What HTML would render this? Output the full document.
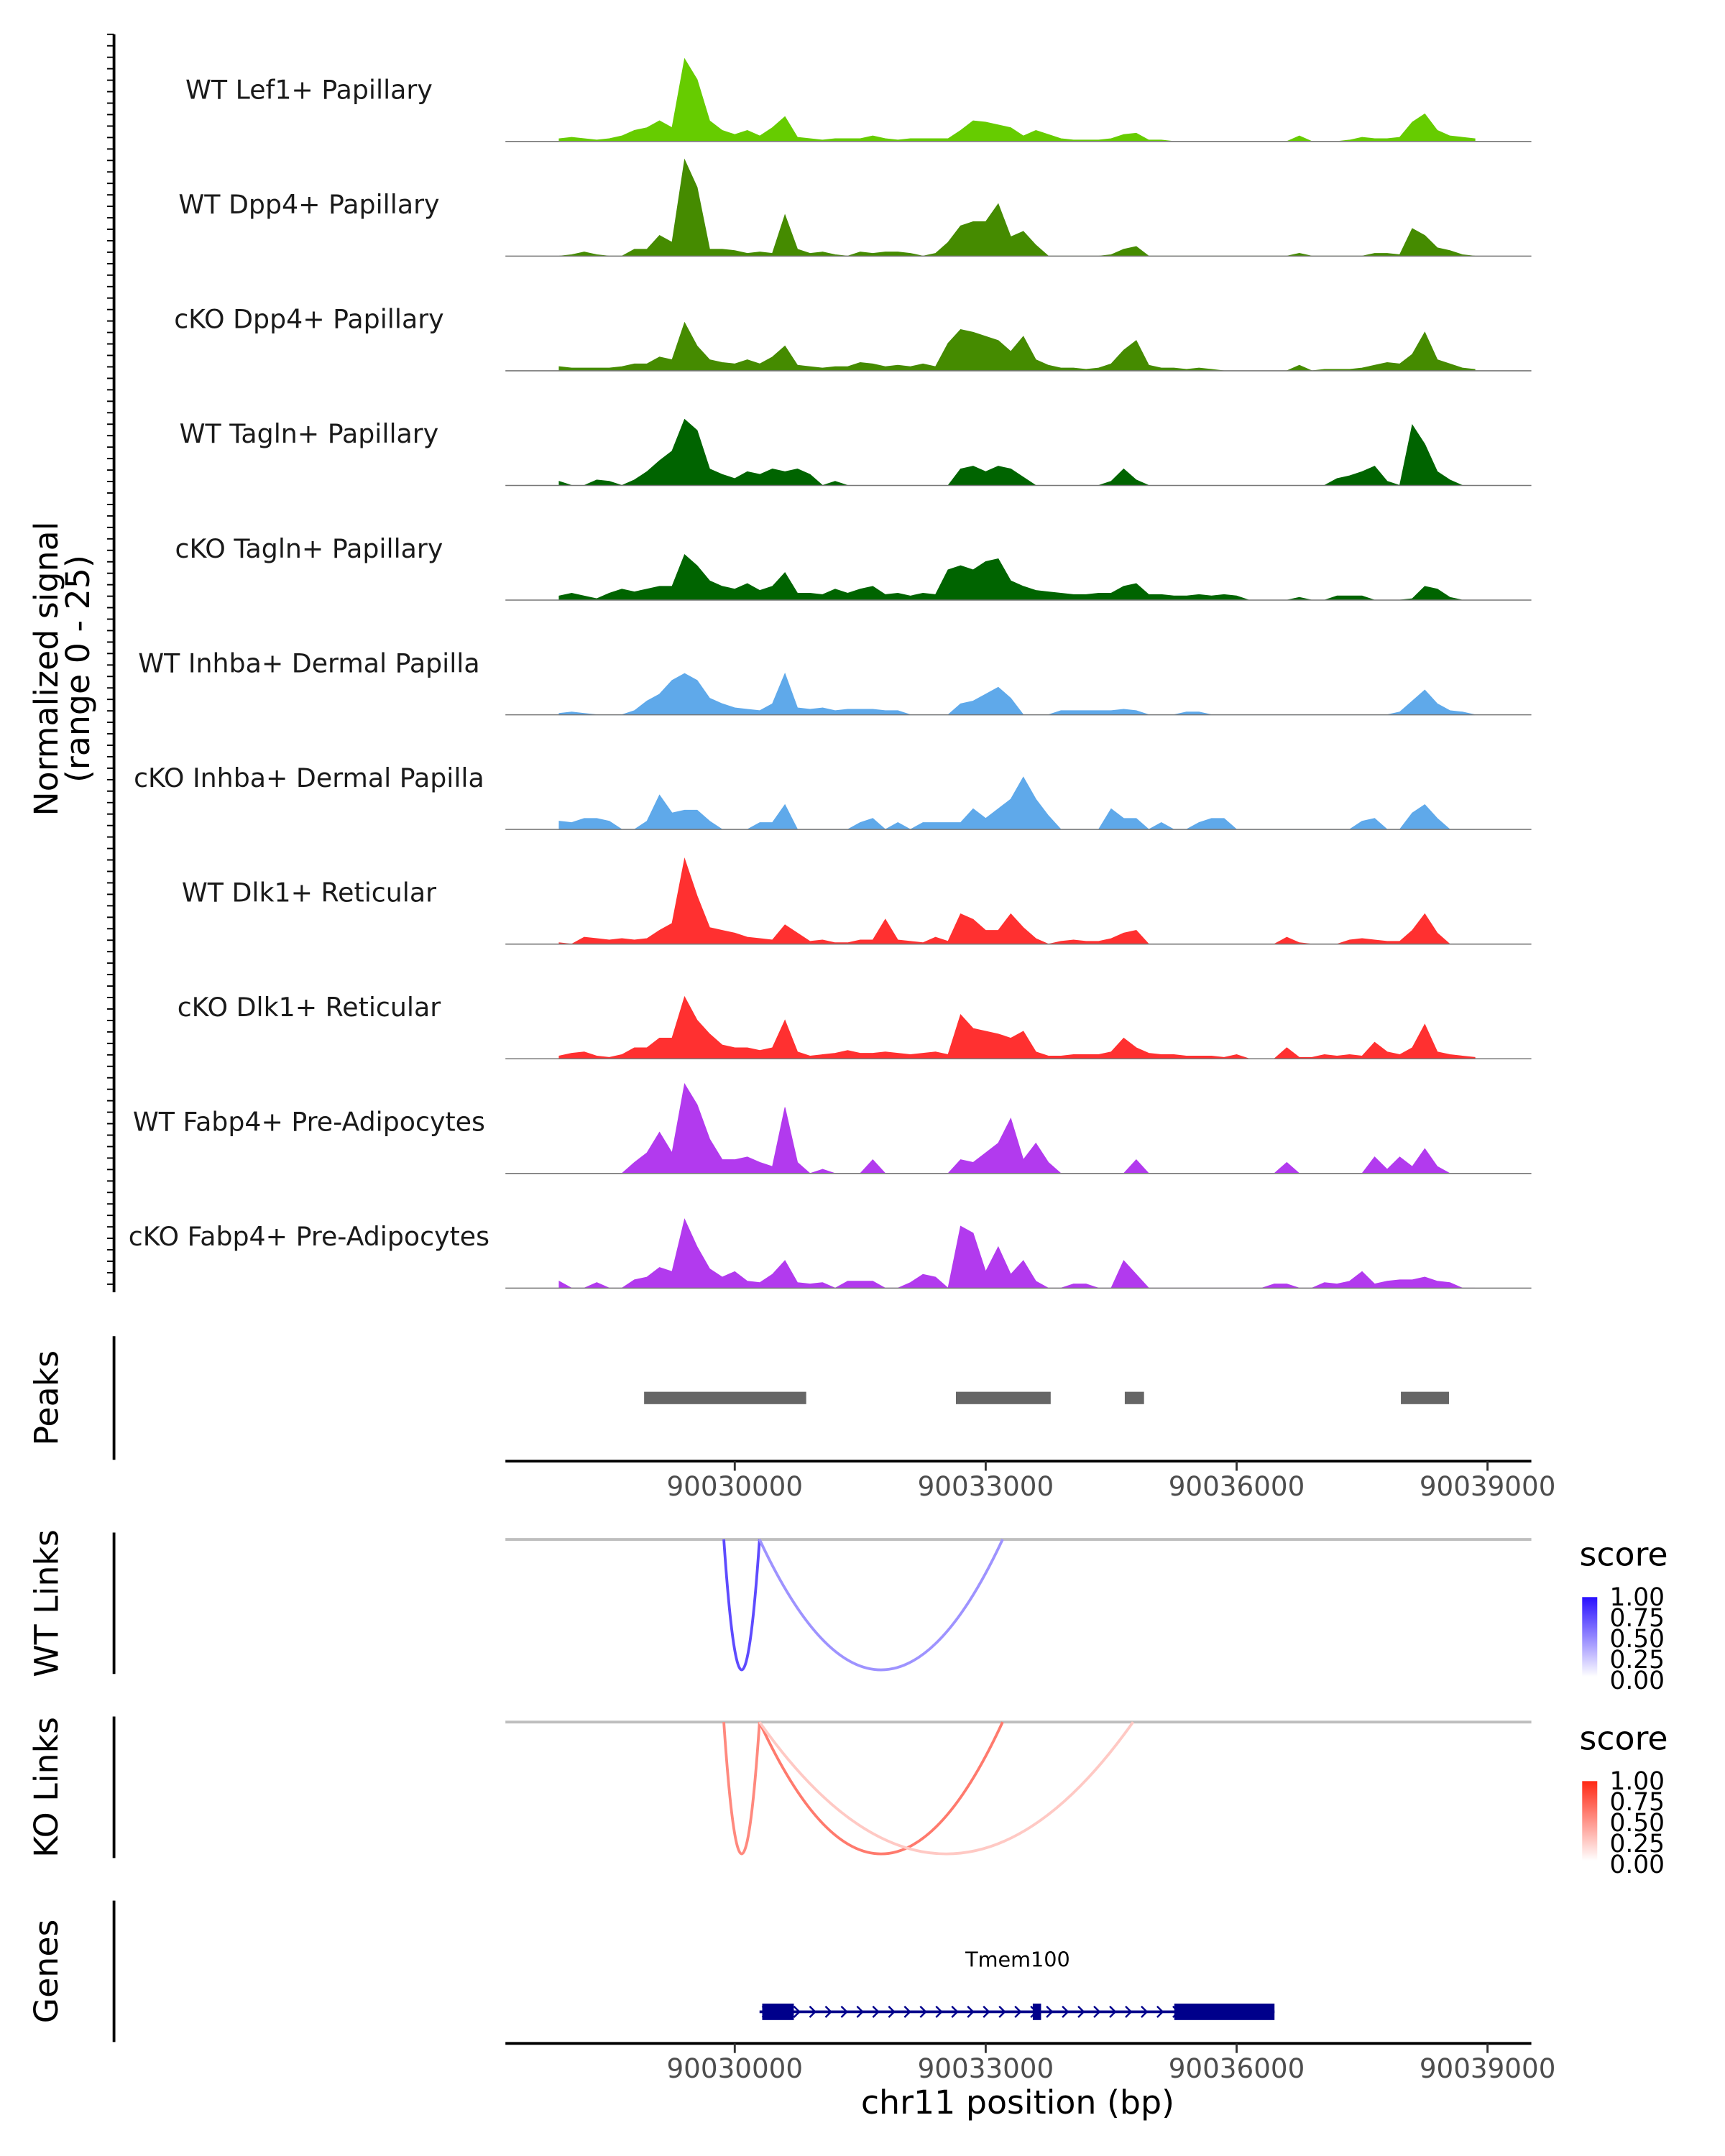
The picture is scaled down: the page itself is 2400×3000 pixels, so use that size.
<!DOCTYPE html>
<html><head><meta charset="utf-8"><style>
html,body{margin:0;padding:0;background:#fff}
svg{display:block}
text{font-family:"DejaVu Sans","Liberation Sans",sans-serif}
</style></head><body>
<svg id="chart" width="2400" height="3000" viewBox="0 0 1256 1570" preserveAspectRatio="none" xmlns="http://www.w3.org/2000/svg">
<g id="tracks"></g>
<g id="frame"></g>
</svg>
<script>
const trackNames=["WT Lef1+ Papillary","WT Dpp4+ Papillary","cKO Dpp4+ Papillary","WT Tagln+ Papillary","cKO Tagln+ Papillary","WT Inhba+ Dermal Papilla","cKO Inhba+ Dermal Papilla","WT Dlk1+ Reticular","cKO Dlk1+ Reticular","WT Fabp4+ Pre-Adipocytes","cKO Fabp4+ Pre-Adipocytes"];
const trackColors=["#66cc00","#458b00","#458b00","#006400","#006400","#5fa9ea","#5fa9ea","#ff3030","#ff3030","#b23aee","#b23aee"];
const binStart=90027900, binSize=150;
const sigLef1=[0.6,0.9,0.6,0.3,0.6,1.2,2.4,3,4.5,3,18,13.5,4.5,2.4,1.5,2.4,1.2,3,5.4,0.9,0.6,0.3,0.6,0.6,0.6,1.2,0.6,0.3,0.6,0.6,0.6,0.6,2.4,4.5,4.2,3.6,3,1.2,2.4,1.5,0.6,0.3,0.3,0.3,0.6,1.5,1.8,0.3,0.3,0,0,0,0,0,0,0,0,0,0,1.2,0,0,0,0.3,0.9,0.6,0.6,0.9,4.2,6,2.4,1.2,0.9,0.6];
const sigWtDpp4=[0,0.3,0.9,0.3,0,0,1.5,1.5,4.5,3,21,15,1.5,1.5,1.2,0.6,0.9,0.6,9,1.5,0.6,0.9,0.3,0,0.9,0.6,0.9,0.9,0.6,0,0.6,3,6.6,7.5,7.5,11.4,4.2,5.4,2.4,0,0,0,0,0,0.3,1.5,2.1,0,0,0,0,0,0,0,0,0,0,0,0,0.6,0,0,0,0,0,0.6,0.6,0.3,6,4.5,1.8,1.2,0.3,0];
const sigKoDpp4=[0.9,0.6,0.6,0.6,0.6,0.9,1.5,1.5,3,2.4,10.5,5.4,2.4,1.8,1.5,2.4,1.5,3,5.4,1.2,0.9,0.6,0.9,0.9,1.8,1.5,0.9,1.2,0.9,1.5,0.9,6,9,8.4,7.5,6.6,4.2,7.5,2.4,1.2,0.6,0.6,0.3,0.6,1.5,4.5,6.6,1.2,0.6,0.6,0.3,0.6,0.3,0,0,0,0,0,0,1.2,0,0.3,0.3,0.3,0.6,1.2,1.8,1.5,3.6,8.4,2.4,1.5,0.6,0.3];
const sigWtTagln=[0.9,0,0,1.2,0.9,0,1.2,3,5.4,7.5,14.4,12,3.6,2.4,1.5,3,2.4,3.6,3,3.6,2.4,0,0.9,0,0,0,0,0,0,0,0,0,3.6,4.2,3,4.2,3.6,1.8,0,0,0,0,0,0,0.9,3.6,1.2,0,0,0,0,0,0,0,0,0,0,0,0,0,0,0,1.5,2.1,3,4.2,0.9,0,13.2,9,3,1.2,0,0];
const sigKoTagln=[0.9,1.5,0.9,0.3,1.5,2.4,1.8,2.4,3,3,9.9,7.5,4.2,3,2.4,3.6,2.1,3,6,1.5,1.5,1.2,2.4,1.5,2.4,3,1.2,1.5,0.9,1.5,1.2,6.6,7.5,6.6,8.4,9,4.2,3,2.1,1.8,1.5,1.2,1.2,1.5,1.5,3,3.6,1.2,1.2,0.9,0.9,1.2,0.9,1.2,0.9,0,0,0,0,0.6,0,0,0.9,0.9,0.9,0,0,0,0.3,3,2.4,0.6,0,0];
const sigWtInhba=[0.3,0.6,0.3,0,0,0,0.9,3,4.5,7.5,9,7.5,3.6,2.4,1.5,1.2,0.9,2.4,9,1.5,1.2,1.5,0.9,1.2,1.2,1.2,0.9,0.9,0,0,0,0,2.4,3,4.5,6,3.6,0,0,0,0.9,0.9,0.9,0.9,0.9,1.2,0.9,0,0,0,0.6,0.6,0,0,0,0,0,0,0,0,0,0,0,0,0,0,0,0.6,3,5.4,2.4,0.9,0.6,0];
const sigKoInhba=[1.8,1.5,2.4,2.4,1.8,0,0,1.8,7.5,3.6,4.2,4.2,1.8,0,0,0,1.5,1.5,5.4,0,0,0,0,0,1.5,2.4,0,1.5,0,1.5,1.5,1.5,1.5,4.5,2.4,4.5,6.6,11.4,6.6,3,0,0,0,0,4.5,2.4,2.4,0,1.5,0,0,1.5,2.4,2.4,0,0,0,0,0,0,0,0,0,0,1.8,2.4,0,0,3.6,5.4,2.4,0,0,0];
const sigWtDlk1=[0.3,0,1.5,1.2,0.9,1.2,0.9,1.2,3,4.5,18.6,10.5,3.6,3,2.4,1.5,1.2,0.9,4.2,2.4,0.6,0.9,0.3,0.3,0.9,0.9,5.4,0.9,0.6,0.3,1.5,0.6,6.6,5.4,3,3,6.6,3.6,1.2,0,0.6,0.9,0.6,0.6,1.2,2.4,3,0,0,0,0,0,0,0,0,0,0,0,1.5,0.3,0,0,0,0.9,1.2,0.9,0.6,0.6,3,6.6,2.4,0,0,0];
const sigKoDlk1=[0.6,1.2,1.5,0.6,0.3,0.9,2.4,2.4,4.5,4.5,13.5,8.4,5.4,3,2.4,2.4,1.8,2.4,8.4,1.5,0.6,0.9,1.2,1.8,1.2,1.2,1.5,1.2,0.9,1.2,1.5,0.9,9.6,6.6,6,5.4,4.5,6,1.5,0.6,0.6,0.9,0.9,0.9,1.5,4.5,2.4,1.2,0.9,0.9,0.6,0.6,0.6,0.3,0.9,0,0,0,2.4,0.3,0.3,0.9,0.6,0.9,0.6,3.6,1.5,0.9,2.4,7.5,1.5,0.9,0.6,0.3];
const sigWtFabp4=[0,0,0,0,0,0,2.4,4.5,9,4.5,19.5,15,7.5,3,3,3.6,2.4,1.5,14.4,2.4,0,0.9,0,0,0,3,0,0,0,0,0,0,3,2.4,4.5,6.6,12,3,6.6,2.4,0,0,0,0,0,0,3,0,0,0,0,0,0,0,0,0,0,0,2.4,0,0,0,0,0,0,3.6,0.9,3.6,1.5,5.4,1.5,0,0,0];
const sigKoFabp4=[1.5,0,0,1.2,0,0,1.8,2.4,4.5,3.6,15,9,4.2,2.4,3.6,1.5,1.2,3,6,1.2,0.9,1.2,0,1.5,1.5,1.5,0,0,1.2,3,2.4,0,13.5,12,3.6,9,3,6,1.5,0,0,0.9,0.9,0,0,6,3,0,0,0,0,0,0,0,0,0,0,0.9,0.9,0,0,1.2,0.9,1.5,3.6,0.9,1.5,1.8,1.8,2.4,1.5,1.2,0,0];
const signals=[sigLef1,sigWtDpp4,sigKoDpp4,sigWtTagln,sigKoTagln,sigWtInhba,sigKoInhba,sigWtDlk1,sigKoDlk1,sigWtFabp4,sigKoFabp4];
const peakStarts=[90028916,90032644,90034663,90037964];
const peakEnds=[90030854,90033777,90034893,90038539];
const xTicks=[90030000,90033000,90036000,90039000];
const wtLinkStart=[90029869,90030296];
const wtLinkEnd=[90030296,90033202];
const wtLinkScore=[0.75,0.45];
const koLinkStart=[90029869,90030296,90030296];
const koLinkEnd=[90030296,90033202,90034762];
const koLinkScore=[0.55,0.62,0.25];
const legendTicks=["1.00","0.75","0.50","0.25","0.00"];
const geneName="Tmem100";
const geneStart=90030296, geneEnd=90036453;
const exonStarts=[90030328,90033563,90035255];
const exonEnds=[90030706,90033662,90036453];

const NS="http://www.w3.org/2000/svg";
const X0=368,X1=1115;
function xs(bp){return 535+(bp-90030000)*(182.7/3000);}
const trackH=83.5, firstBase=103, yMax=25;
function ys(v,base){return base-v/yMax*trackH;}
function mk(tag,attrs,parent){const e=document.createElementNS(NS,tag);for(const k in attrs)e.setAttribute(k,attrs[k]);parent.appendChild(e);return e;}
const tg=document.getElementById('tracks');
const fg=document.getElementById('frame');
function txt(s,x,y,size,parent,anchor,fill,rot){const t=mk('text',{x:x,y:y,'font-size':size,'text-anchor':anchor||'middle',fill:fill||'#1a1a1a'},parent);if(rot)t.setAttribute('transform','rotate(-90 '+x+' '+y+')');t.textContent=s;return t;}

signals.forEach((arr,i)=>{
  const base=firstBase+i*trackH;
  const g=mk('g',{},tg);
  
  
  let d='M'+xs(binStart).toFixed(2)+','+base;
  arr.forEach((v,k)=>{d+=' L'+xs(binStart+k*binSize).toFixed(2)+','+ys(v,base).toFixed(2);});
  d+=' L'+xs(binStart+(arr.length-1)*binSize).toFixed(2)+','+base+' Z';
  const p=mk('path',{d:d,fill:trackColors[i],stroke:trackColors[i],'stroke-width':0.5},g);
  
  
  const bl=mk('line',{x1:X0,x2:X1,y1:base,y2:base,stroke:'#777','stroke-width':0.8},g);
  
  
  const lab=txt(trackNames[i],225,base-31,19,g);
  
  
});

let e=mk('line',{x1:83,x2:83,y1:25,y2:941,stroke:'#000','stroke-width':2},fg);


for(let y=25;y<=941;y+=8.35){mk('line',{x1:78,x2:83,y1:y,y2:y,stroke:'#000','stroke-width':1},fg);}
e=txt('Normalized signal',42,487,24,fg,'middle','#000',true);


e=txt('(range 0 - 25)',65,487,24,fg,'middle','#000',true);



const panels=[['Peaks',973,1063],['WT Links',1116,1219],['KO Links',1250,1353],['Genes',1384,1487]];
panels.forEach(pn=>{
  const l=mk('line',{x1:83,x2:83,y1:pn[1],y2:pn[2],stroke:'#000','stroke-width':2},fg);
  
  
  const t=txt(pn[0],42,(pn[1]+pn[2])/2,24,fg,'middle','#000',true);
  
  
});

peakStarts.forEach((s,i)=>{
  const r=mk('rect',{x:xs(s),y:1013.5,width:xs(peakEnds[i])-xs(s),height:9,fill:'#666'},fg);
  
  
});

function xAxis(y,name){
  const l=mk('line',{x1:X0,x2:X1,y1:y,y2:y,stroke:'#000','stroke-width':2},fg);
  
  
  xTicks.forEach(t=>{
    mk('line',{x1:xs(t),x2:xs(t),y1:y,y2:y+7,stroke:'#333','stroke-width':1.5},fg);
    const tt=txt(String(t),xs(t),y+25,19.5,fg,'middle','#4d4d4d');
    
    
  });
}
xAxis(1064,'peaks-x-axis');
xAxis(1488,'genes-x-axis');
e=txt('chr11 position (bp)',741,1539,24,fg,'middle','#000');



function mix(c,s){return 'rgb('+c.map(v=>Math.round(255+(v-255)*s)).join(',')+')';}
const blue=[40,15,255], red=[255,40,20];
function links(top,bottom,st,en,sc,col,name){
  const l=mk('line',{x1:X0,x2:X1,y1:top,y2:top,stroke:'#bebebe','stroke-width':2},fg);
  
  
  st.forEach((s,i)=>{
    const a=xs(s),b=xs(en[i]);const cy=(4*bottom-2*top)/2;
    const p=mk('path',{d:'M'+a+','+top+' Q'+((a+b)/2)+','+cy+' '+b+','+top,fill:'none',stroke:mix(col,sc[i]),'stroke-width':2},fg);
    
    
  });
}
links(1121,1216,wtLinkStart,wtLinkEnd,wtLinkScore,blue,'wt-link');
links(1254,1350,koLinkStart,koLinkEnd,koLinkScore,red,'ko-link');

function legend(y0,col,id){
  const g=mk('g',{},fg);
  
  
  txt('score',1150,y0,24,g,'start','#000');
  const gr=mk('linearGradient',{id:id+'-grad',x1:0,y1:1,x2:0,y2:0},g);
  mk('stop',{offset:0,'stop-color':'#fff'},gr);
  mk('stop',{offset:1,'stop-color':mix(col,1)},gr);
  mk('rect',{x:1152,y:y0+23,width:11,height:58,fill:'url(#'+id+'-grad)'},g);
  legendTicks.forEach((t,i)=>{txt(t,1172,y0+29+i*15.2,18,g,'start','#000');});
}
legend(1140,blue,'wt-legend');
legend(1274,red,'ko-legend');

const gg=mk('g',{},fg);


e=txt(geneName,741,1432,15,gg,'middle','#000');


mk('line',{x1:xs(geneStart),x2:xs(geneEnd),y1:1465,y2:1465,stroke:'#00008b','stroke-width':2},gg);
for(let x=xs(geneStart)+4;x<xs(geneEnd)-6;x+=11.5){mk('path',{d:'M'+(x-2)+',1461 L'+(x+2)+',1465 L'+(x-2)+',1469',fill:'none',stroke:'#00008b','stroke-width':1.3},gg);}
exonStarts.forEach((s,i)=>{
  const r=mk('rect',{x:xs(s),y:1459,width:xs(exonEnds[i])-xs(s),height:12,fill:'#00008b'},gg);
  
  
});
</script>
</body></html>
